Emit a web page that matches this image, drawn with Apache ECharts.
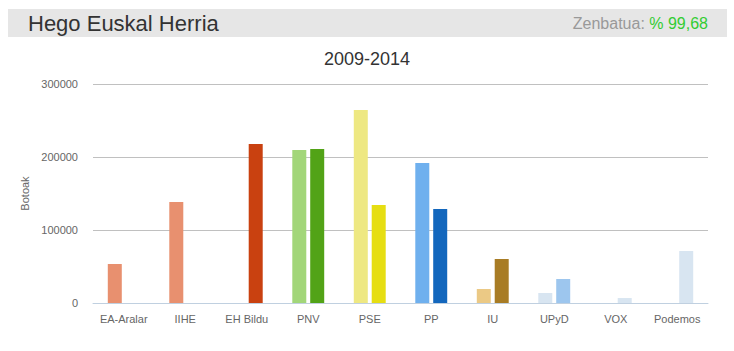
<!DOCTYPE html>
<html>
<head>
<meta charset="utf-8">
<script src="https://cdn.jsdelivr.net/npm/echarts@6/dist/echarts.min.js"></script>
<style>
    html, body { margin: 0; padding: 0; background: #fff; }
    body { font-family: 'Liberation Sans', Arial, sans-serif; }
    #header {
        position: absolute; left: 8px; top: 9px; width: 719px; height: 28px;
        background: #e6e6e6;
    }
    #header .name { position: absolute; left: 20px; top: 2px; font-size: 22px; color: #333; }
    #header .count { position: absolute; right: 19px; top: 6px; font-size: 16px; color: #999; }
    #header .count span { color: #33cc33; }
    #chart { position: absolute; left: 0; top: 0; width: 734px; height: 351px; }
</style>
</head>
<body>
<div id="chart"></div>
<div id="header">
    <div class="name">Hego Euskal Herria</div>
    <div class="count">Zenbatua: <span>% 99,68</span></div>
</div>
<script>
    // alderdiak
    var parties = ['EA-Aralar', 'IIHE', 'EH Bildu', 'PNV', 'PSE', 'PP', 'IU', 'UPyD', 'VOX', 'Podemos'];
    // botoak 2009 / 2014 (irudian irakurrita)
    var votes2009 = [53400, 138400, null, 209600, 264400, 191800, 19200, 13700, null, null];
    var votes2014 = [null, null, 217800, 211000, 134200, 128800, 60300, 32900, 6800, 71200];
    var colors2009 = ['#e8906f', '#e8906f', '#c94110', '#a2d679', '#eee882', '#6fb0ee', '#ebc985', '#d8e5f1', '#d8e5f1', '#d8e5f1'];
    var colors2014 = ['#e8906f', '#e8906f', '#c94110', '#52a317', '#e6de12', '#1367bd', '#a87c25', '#9dc6ee', '#d8e5f1', '#d8e5f1'];
    var yTicks = [0, 100000, 200000, 300000];

    function toItems(values, colors) {
        var out = [];
        for (var i = 0; i < values.length; i++) {
            out.push({ value: values[i] === null ? '-' : values[i], itemStyle: { color: colors[i] } });
        }
        return out;
    }

    var myChart = echarts.init(document.getElementById('chart'), null, { renderer: 'svg' });
    var option = {
        animation: false,
        textStyle: { fontFamily: 'Liberation Sans, Arial, sans-serif' },
        title: {
            text: '2009-2014',
            left: 319,
            top: 45,
            textStyle: { fontSize: 18, fontWeight: 'normal', color: '#333' }
        },
        grid: { left: 93, right: 26, top: 84, bottom: 48 },
        xAxis: {
            type: 'category',
            data: parties,
            axisLine: { lineStyle: { color: '#c0d0e0' } },
            axisTick: { length: 5, lineStyle: { color: '#c0d0e0' } },
            axisLabel: { color: '#666', fontSize: 11, margin: 10, interval: 0 }
        },
        yAxis: {
            type: 'value',
            min: yTicks[0],
            max: yTicks[yTicks.length - 1],
            interval: 100000,
            name: 'Botoak',
            nameLocation: 'middle',
            nameGap: 52,
            nameTextStyle: { color: '#666', fontSize: 11 },
            axisLine: { show: false },
            axisTick: { show: false },
            axisLabel: {
                color: '#666', fontSize: 11, margin: 15,
                formatter: function (v) { return String(v); }
            },
            splitLine: { lineStyle: { color: '#c0c0c0' } }
        },
        series: [
            {
                name: '2009',
                type: 'bar',
                barWidth: 14,
                barGap: '28%',
                data: toItems(votes2009, colors2009)
            },
            {
                name: '2014',
                type: 'bar',
                barWidth: 14,
                barGap: '28%',
                data: toItems(votes2014, colors2014)
            }
        ]
    };
    myChart.setOption(option);
</script>
</body>
</html>
